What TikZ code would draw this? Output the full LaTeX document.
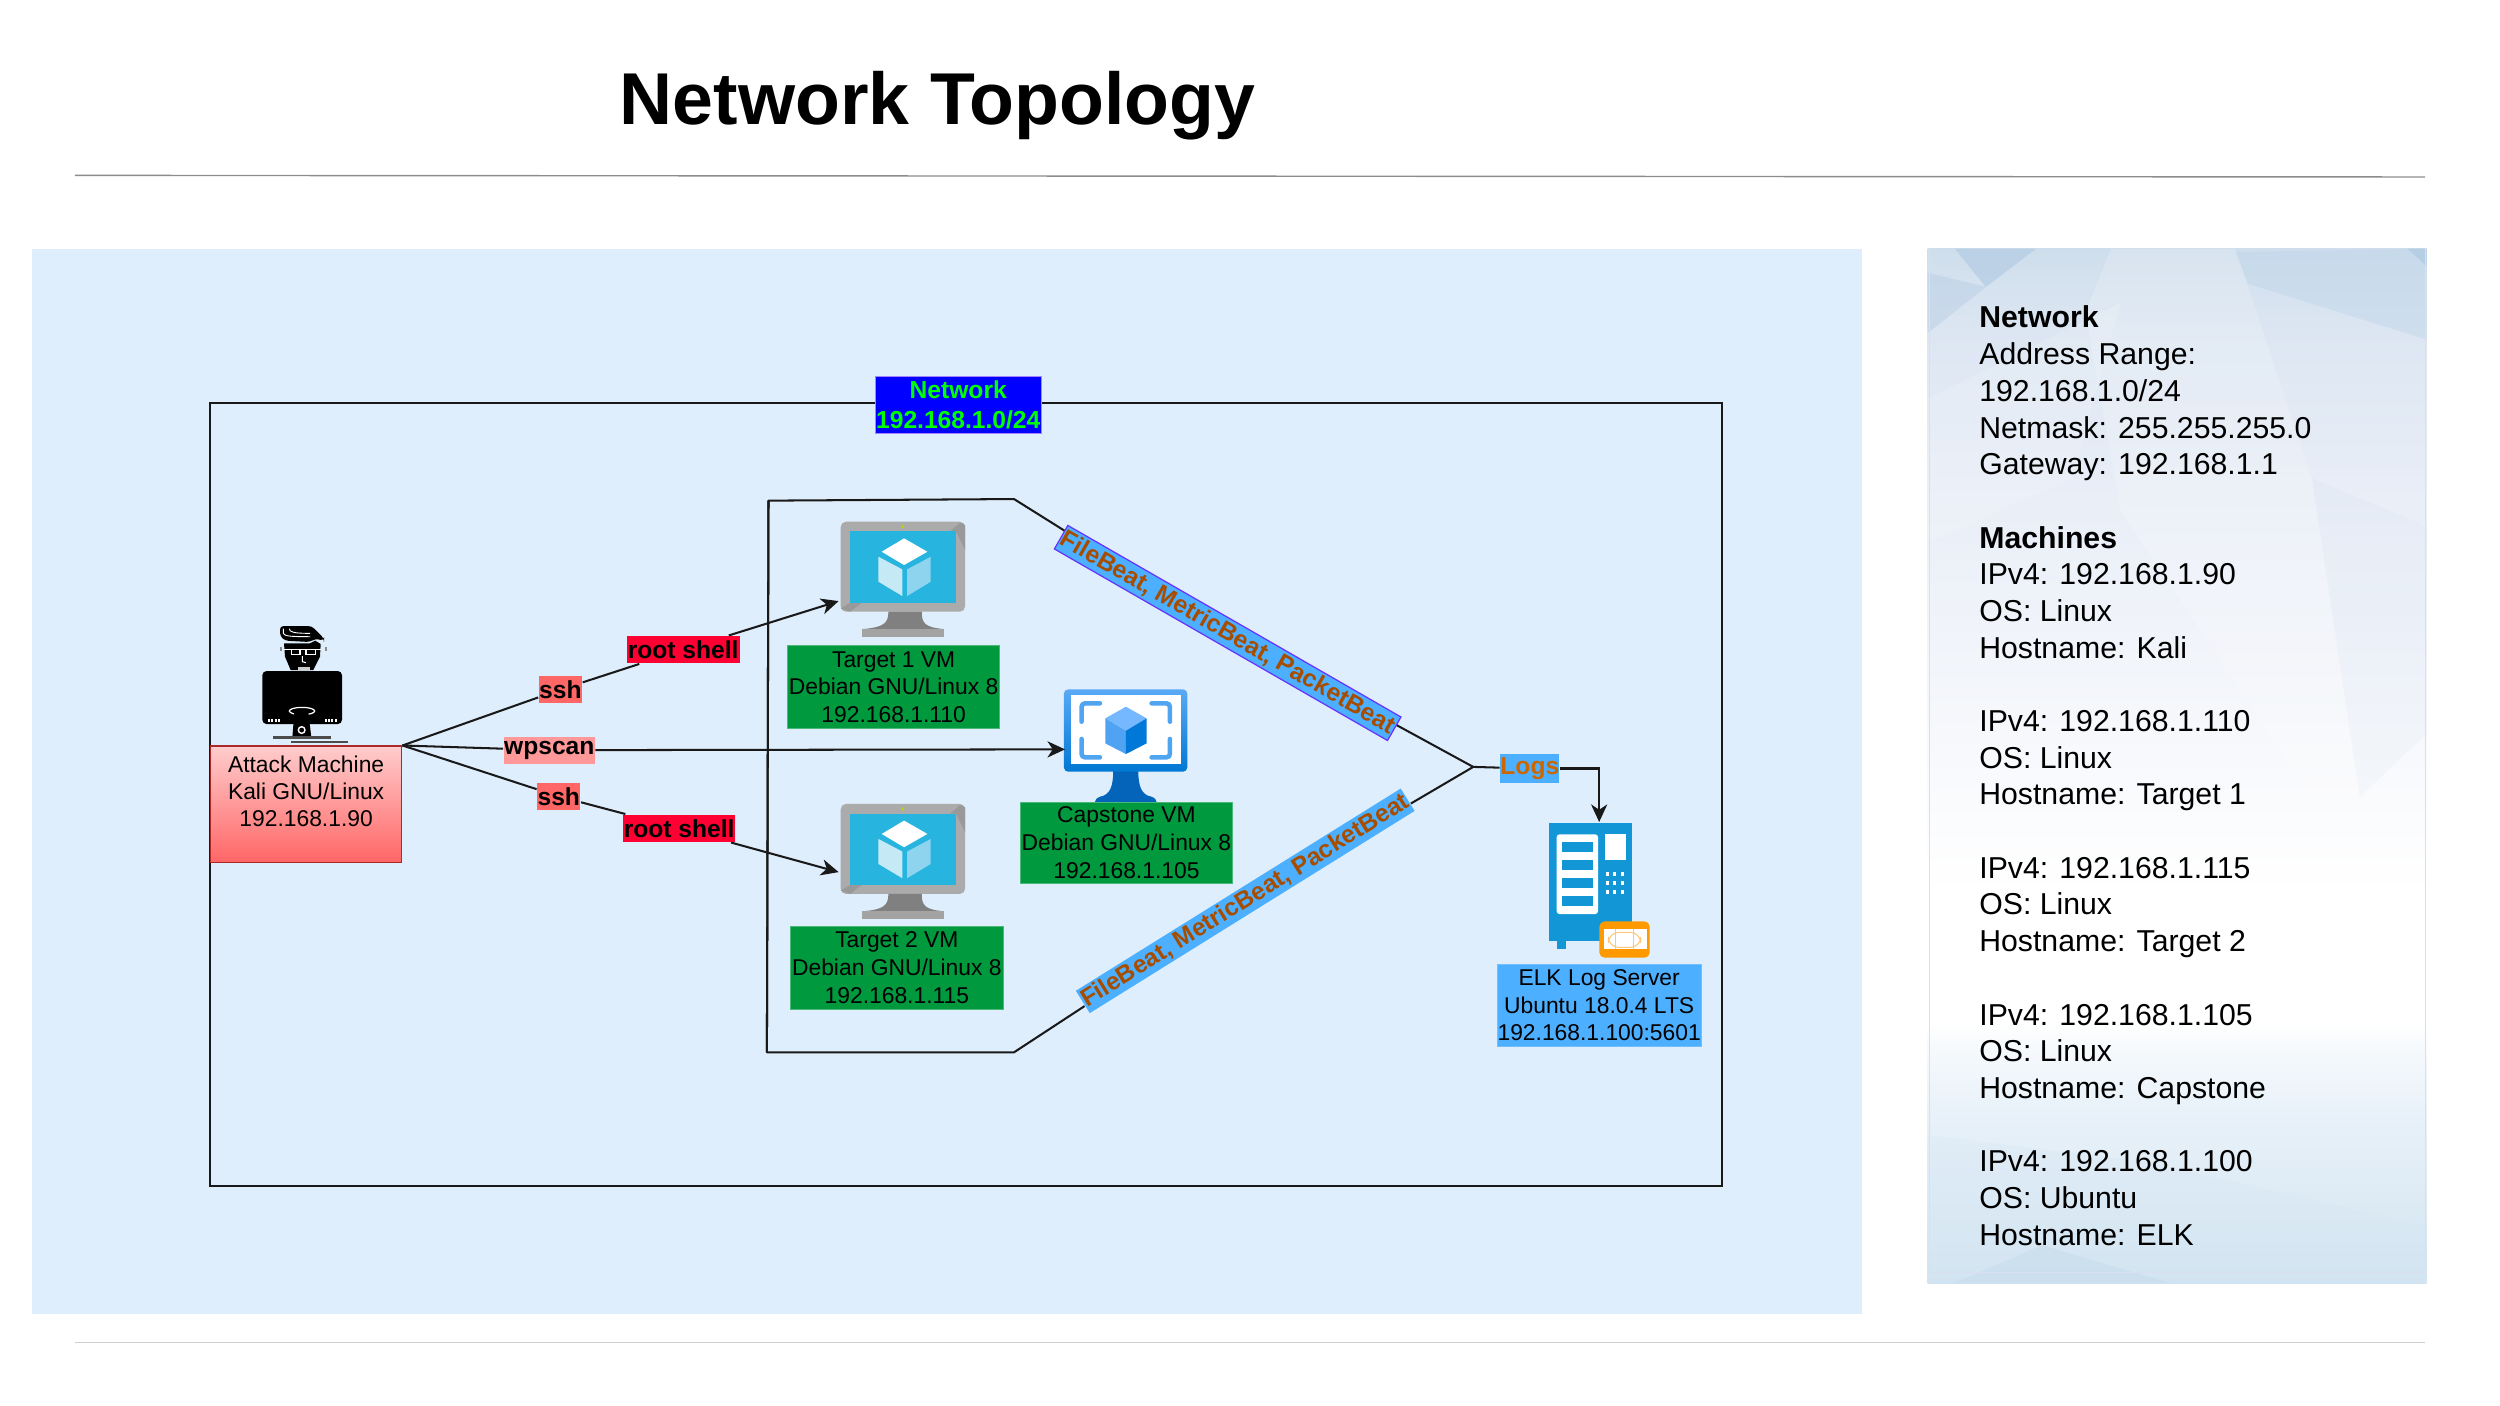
\documentclass[tikz,border=0pt]{standalone}
\usepackage{fontspec}
\setmainfont{Liberation Sans}
\usetikzlibrary{arrows.meta,calc}
\def\U{0.015944cm}
\definecolor{panelblue}{HTML}{DFEEFC}
\definecolor{rulea}{HTML}{8C8C8C}
\definecolor{ruleb}{HTML}{CFCFCF}
\definecolor{vmgreen}{HTML}{00993D}
\definecolor{skyfill}{HTML}{4DAFFF}
\definecolor{brownt}{HTML}{A64D00}
\definecolor{oranget}{HTML}{CC6600}
\definecolor{sshred}{HTML}{FF6666}
\definecolor{wpred}{HTML}{FF9999}
\definecolor{rootred}{HTML}{FF0033}
\definecolor{purp}{HTML}{6633FF}
\definecolor{lime}{HTML}{00FF00}
\definecolor{vmscreen}{HTML}{27B4DE}
\definecolor{vmleft}{HTML}{C5E9F5}
\definecolor{vmright}{HTML}{8FD4EE}
\definecolor{vmled}{HTML}{B8D800}
\definecolor{capneck}{HTML}{0464B9}
\definecolor{capa}{HTML}{5AA9F5}
\definecolor{capb}{HTML}{0078D4}
\definecolor{capbr}{HTML}{50A5F0}
\definecolor{capt}{HTML}{76B8FF}
\definecolor{capl}{HTML}{4FA3F2}
\definecolor{capr}{HTML}{0078D8}
\definecolor{elkb}{HTML}{1296D5}
\definecolor{elkor}{HTML}{FF9900}
\definecolor{elkli}{HTML}{FFC878}
\definecolor{fa}{HTML}{B5CDE4}
\definecolor{fb}{HTML}{BCD0E6}
\definecolor{fc}{HTML}{BED5E9}
\definecolor{fd}{HTML}{CDDAEB}
\definecolor{fe}{HTML}{D5E6F3}
\definecolor{ff}{HTML}{C5DBEC}
\definecolor{fg}{HTML}{DADEF0}
\definecolor{pa}{HTML}{CFDEEC}
\definecolor{pb}{HTML}{DCE6F2}
\definecolor{pc}{HTML}{E9EEF7}
\definecolor{pd}{HTML}{F1F4FA}
\definecolor{pe}{HTML}{E8F1F9}
\definecolor{pp}{HTML}{F5F9FC}
\definecolor{pf}{HTML}{DCEAF4}
\definecolor{pg}{HTML}{D2E4F1}
\pgfdeclareverticalshading{panelgrad}{100bp}{%
 color(0bp)=(pg); color(25bp)=(pg); color(28.5bp)=(pf); color(33.1bp)=(pe); color(36.2bp)=(pp); color(37.7bp)=(white); color(43.9bp)=(white);
 color(56bp)=(pd); color(63bp)=(pc); color(71bp)=(pb); color(75bp)=(pa); color(100bp)=(pa)}
\tikzset{
 conn/.style={draw=black!90,line width=0.58pt},
 arr/.style={conn,-{Stealth[length=5pt,width=4.6pt,inset=1.5pt]}},
 lab7/.style={font={\fontsize{7}{8.6}\selectfont\bfseries},inner sep=0pt,align=center,text=black},
 vmbox/.style={fill=vmgreen,draw=vmgreen!70!white,line width=0.2pt,inner sep=0pt,align=center,font={\fontsize{6.5}{7.9}\selectfont}},
 elkbox/.style={fill=skyfill,draw=skyfill!80!white,line width=0.2pt,inner sep=0pt,align=center,font={\fontsize{6.5}{7.9}\selectfont}},
 attackbox/.style={top color=red!20,bottom color=sshred,draw=red!45!black!60!sshred,line width=0.4pt,inner sep=0pt,align=center,font={\fontsize{6.5}{7.7}\selectfont}},
 ssh/.style={lab7,fill=sshred},
 wps/.style={lab7,fill=wpred},
 rootl/.style={lab7,fill=rootred},
 beat/.style={fill=skyfill,inner sep=0pt,text=brownt,font={\fontsize{7}{8.6}\selectfont\bfseries}}
}
\newcommand{\drawvmicon}{%
  \fill[rounded corners=1.5pt,fill=black!33] (32,35) rectangle (405,305);
  \fill[black!40] (405,45) -- (405,120) -- (378,64) -- (360,64) -- (390,38) -- cycle;
  \fill[black!40] (32,295) -- (60,278) -- (95,278) -- (60,305) -- cycle;
  \fill[black!50] (175,305) -- (275,305) .. controls (275,340) and (285,352) .. (342,357) -- (97,357) .. controls (160,352) and (175,340) .. (175,305) -- cycle;
  \fill[black!36] (97,356) rectangle (342,380);
  \fill[vmscreen] (60,64) rectangle (378,278);
  \fill[white] (222,85) -- (292,125) -- (222,165) -- (155,125) -- cycle;
  \fill[vmleft] (145,140) -- (217,178) -- (217,258) -- (145,215) -- cycle;
  \fill[vmright] (302,140) -- (231,178) -- (231,258) -- (302,215) -- cycle;
  \fill[vmled] (217,50) circle (5);
}
\newcommand{\drawcapicon}{%
  \fill[capneck] (190,270) -- (265,270) .. controls (265,320) and (275,345) .. (305,350) .. controls (315,354) and (320,360) .. (320,366) -- (135,366) .. controls (135,360) and (140,354) .. (150,350) .. controls (180,345) and (190,320) .. (190,270) -- cycle;
  \shade[rounded corners=1.2pt,top color=capa,bottom color=capb] (42,28) rectangle (412,275);
  \fill[white] (62,46) rectangle (392,252);
  \begin{scope}[draw=capbr,line width=1.3pt,line cap=round,rounded corners=1pt]
   \draw (150,70) -- (95,70) -- (95,125);
   \draw (305,70) -- (360,70) -- (360,125);
   \draw (95,177) -- (95,232) -- (150,232);
   \draw (360,177) -- (360,232) -- (305,232);
  \end{scope}
  \fill[capt] (228,80) -- (290,115) -- (228,152) -- (166,115) -- cycle;
  \fill[capl] (166,115) -- (228,152) -- (228,222) -- (166,190) -- cycle;
  \fill[capr] (290,115) -- (228,152) -- (228,222) -- (290,190) -- cycle;
}
\newcommand{\drawhackicon}{%
  \fill[black,rounded corners=1pt] (150,48) -- (245,48) -- (282,85) -- (282,92) -- (255,86) -- (240,96) -- (165,92) -- (150,78) -- cycle;
  \draw[white,line width=0.25pt] (160,56) -- (160,70) .. controls (165,78) and (175,80) .. (240,80);
  \draw[white,line width=0.25pt] (178,56) .. controls (178,66) and (190,70) .. (240,70);
  \fill[black] (162,100) -- (240,100) -- (256,92) -- (272,102) -- (270,140) -- (250,180) -- (182,180) -- (165,140) -- cycle;
  \draw[white,line width=0.3pt] (162,118) -- (272,118);
  \draw[white,line width=0.3pt] (185,118) rectangle (210,133);
  \draw[white,line width=0.3pt] (228,118) rectangle (256,133);
  \draw[white,line width=0.3pt] (217,138) -- (217,155) -- (228,158);
  \fill[black!20] (203,170) rectangle (240,181);
  \fill[black!45] (150,110) rectangle (155,122);
  \fill[black!45] (286,110) rectangle (292,122);
  \fill[black,rounded corners=1.2pt] (97,183) rectangle (336,342);
  \foreach \dx in {114,124,134,144,284,294,304,314} \fill[white] (\dx,326) rectangle +(6,10);
  \fill[black] (193,308) -- (235,308) -- (244,382) -- (187,382) -- cycle;
  \draw[white,line width=0.35pt,fill=black] (216,303) ellipse (38 and 11);
  \fill[black] (193,308) -- (235,308) -- (238,330) -- (190,330) -- cycle;
  \draw[white,line width=0.4pt] (215,360) circle (10);
  \fill[black!70] (130,379) rectangle (302,386);
  \fill[black!70] (184,392) rectangle (354,398);
}
\newcommand{\drawelkicon}{%
  \fill[elkb] (448,310) rectangle (697,662);
  \fill[elkb] (470,662) rectangle (497,687);
  \fill[white,rounded corners=0.8pt] (470,343) rectangle (594,582);
  \foreach \sy in {366,420,474,528} \fill[elkb] (485,\sy) rectangle (580,\sy+30);
  \fill[white] (614,343) rectangle (677,420);
  \foreach \dy in {462,490,517} \foreach \dx in {622,644,667} \fill[white] (\dx-5,\dy-6) rectangle (\dx+5,\dy+6);
  \fill[elkor,rounded corners=1.5pt] (598,604) rectangle (749,713);
  \fill[white] (612,628) rectangle (740,688);
  \draw[elkli,line width=0.3pt,rounded corners=3pt] (625,637) rectangle (722,682);
  \draw[elkli,line width=0.3pt] (645,628) -- (645,688) (700,628) -- (700,688);
}
\newcommand{\boxn}[7]{%
 \node[#6,minimum width={(#4-#2)*\U},minimum height={(#5-#3)*\U}] (#1) at ({(#2+#4)/2},{(#3+#5)/2}) {#7};}
\begin{document}
\begin{tikzpicture}[x=0.015944cm,y=-0.015944cm]
\useasboundingbox (0,0) rectangle (1568,881.8);
\fill[white] (0,0) rectangle (1568,881.8);
% title and rules
\node[font={\fontsize{20.9}{24}\selectfont\bfseries},inner sep=0pt] (title) at (588,66) {Network Topology};
\coordinate (ruleaL) at (47,110); \coordinate (ruleaR) at (1521,111);
\coordinate (rulebL) at (47,842); \coordinate (rulebR) at (1521,842);
\draw[rulea,line width=0.4pt] (ruleaL) -- (ruleaR);
\draw[ruleb,line width=0.4pt] (rulebL) -- (rulebR);
% panels
\fill[panelblue] (20,156) rectangle (1168,824);
\begin{scope}
 \clip (1209,156) rectangle (1522,805);
 \shade[shading=panelgrad] (1209,156) rectangle (1522,805);
 \fill[white,opacity=.18] (1324,156) -- (1402,156) -- (1410,180) -- (1450,300) -- (1490,560) -- (1330,320) -- (1308,196) -- cycle;
 \fill[fa,opacity=.75] (1226,156) -- (1277,156) -- (1245.5,180) -- cycle;
 \fill[fb,opacity=.55] (1209,171) -- (1245.5,180) -- (1209,209) -- cycle;
 \fill[fc,opacity=.45] (1402,158) -- (1522,156) -- (1522,213) -- (1410,178) -- cycle;
 \fill[fa,opacity=.9] (1510,156) -- (1522,156) -- (1522,167) -- cycle;
 \fill[white,opacity=.14] (1209,250) -- (1330,190) -- (1300,300) -- (1209,340) -- cycle;
 \fill[fd,opacity=.12] (1450,300) -- (1522,330) -- (1522,460) -- (1480,500) -- cycle;
 \fill[fe,opacity=.3] (1209,712) -- (1348,729) -- (1522,769) -- (1522,805) -- (1209,805) -- cycle;
 \fill[ff,opacity=.5] (1225,805) -- (1281,781) -- (1362,805) -- cycle;
 \draw[fg,line width=0.3pt] (1210,150) -- (1210,798) -- (1521,798) -- (1521,150);
\end{scope}
\node[anchor=north west,inner sep=0pt,align=left,font={\fontsize{8.6}{10.44}\selectfont}] (info) at (1241,191.5) {%
\textbf{Network}\\Address Range:\\192.168.1.0/24\\Netmask: 255.255.255.0\\Gateway: 192.168.1.1\\\mbox{}\\
\textbf{Machines}\\IPv4: 192.168.1.90\\OS: Linux\\Hostname: Kali\\\mbox{}\\
IPv4: 192.168.1.110\\OS: Linux\\Hostname: Target 1\\\mbox{}\\
IPv4: 192.168.1.115\\OS: Linux\\Hostname: Target 2\\\mbox{}\\
IPv4: 192.168.1.105\\OS: Linux\\Hostname: Capstone\\\mbox{}\\
IPv4: 192.168.1.100\\OS: Ubuntu\\Hostname: ELK};
% network frame
\draw[conn] (132,253) rectangle (1080,744);
\boxn{network}{549}{236}{653}{272}{fill=blue,draw=purp!60!white,line width=0.3pt,inner sep=0pt,align=center,text=lime,font={\fontsize{7}{8.6}\selectfont\bfseries}}{Network\\192.168.1.0/24}
% icons
\node[inner sep=0pt,minimum width={52*\U},minimum height={74*\U}] (hacker) at (190,429) {};
\node[inner sep=0pt,minimum width={78*\U},minimum height={73*\U}] (t1icon) at (566,363.5) {};
\node[inner sep=0pt,minimum width={78*\U},minimum height={73*\U}] (t2icon) at (566,540.5) {};
\node[inner sep=0pt,minimum width={78*\U},minimum height={71*\U}] (capicon) at (706,467.5) {};
\node[inner sep=0pt,minimum width={62*\U},minimum height={84*\U}] (elkicon) at (1003,558) {};
\begin{scope}[shift={(144.25,382.6)},scale=0.2091]\drawhackicon\end{scope}
\begin{scope}[shift={(520.6,319.9)},scale=0.2091]\drawvmicon\end{scope}
\begin{scope}[shift={(520.6,496.9)},scale=0.2091]\drawvmicon\end{scope}
\begin{scope}[shift={(658.5,426.5)},scale=0.2091]\drawcapicon\end{scope}
\begin{scope}[shift={(878.07,451.58)},scale=0.2091]\drawelkicon\end{scope}
% boxes
\boxn{attack}{132}{468}{252}{541}{attackbox}{Attack Machine\\Kali GNU/Linux\\192.168.1.90\\\mbox{}}
\boxn{t1box}{494}{405}{627}{457}{vmbox}{Target 1 VM\\Debian GNU/Linux 8\\192.168.1.110}
\boxn{capbox}{640}{503}{773}{554}{vmbox}{Capstone VM\\Debian GNU/Linux 8\\192.168.1.105}
\boxn{t2box}{496}{581}{629}{633}{vmbox}{Target 2 VM\\Debian GNU/Linux 8\\192.168.1.115}
\boxn{elkbox}{939}{605}{1067}{656}{elkbox}{ELK Log Server\\Ubuntu 18.0.4 LTS\\192.168.1.100:5601}
% labels
\boxn{sshA}{338}{424}{365}{441}{ssh}{ssh}
\boxn{rootA}{393}{399}{464}{416}{rootl}{root shell}
\boxn{wpscan}{316}{462}{373}{479}{wps}{wpscan}
\boxn{sshB}{337}{491}{364}{508}{ssh}{ssh}
\boxn{rootB}{391}{511}{461}{528}{rootl}{root shell}
\boxn{logs}{941}{473}{978}{491}{fill=skyfill,inner sep=0pt,text=oranget,font={\fontsize{7}{8.6}\selectfont\bfseries}}{Logs}
\node[beat,draw=purp,line width=0.35pt,rotate=-29.9,minimum width={241*\U},minimum height={17*\U}] (beatA) at (770,397) {FileBeat, MetricBeat, PacketBeat};
\node[beat,rotate=31.9,minimum width={240*\U},minimum height={16.5*\U}] (beatB) at (781,565) {FileBeat, MetricBeat, PacketBeat};
% connector points
\coordinate (t1in) at (526,377);
\coordinate (t2in) at (526,547);
\coordinate (capin) at (668,470);
\coordinate (hub) at (924,481);
\coordinate (brTL) at (482,314);
\coordinate (brTM) at (636,313);
\coordinate (brBL) at (481,660);
\coordinate (brBM) at (636,660);
% connectors
\draw[conn] (attack.north east) -- (sshA);
\draw[conn] (sshA) -- (rootA);
\draw[arr] (rootA) -- (t1in);
\draw[conn] (attack.north east) -- (wpscan);
\draw[arr] (wpscan) -- (capin);
\draw[conn] (attack.north east) -- (sshB);
\draw[conn] (sshB) -- (rootB);
\draw[arr] (rootB) -- (t2in);
\draw[conn,line join=round] (brBL) -- (brTL) -- (brTM) -- (beatA);
\draw[conn] (beatA) -- (hub);
\draw[conn,line join=round] (brTL) -- (brBL) -- (brBM) -- (beatB);
\draw[conn] (beatB) -- (hub);
\draw[conn] (hub) -- (logs);
\draw[arr] (logs) -| (elkicon.north);
\end{tikzpicture}
\end{document}
